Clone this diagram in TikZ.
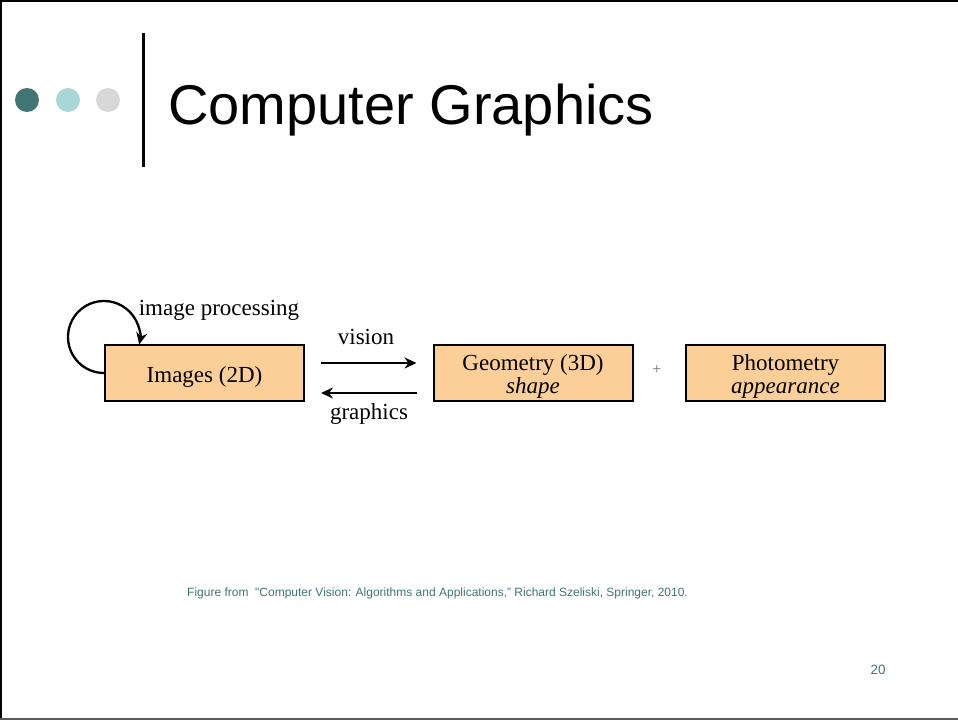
\documentclass[tikz,border=0pt]{standalone}
\usepackage{fontspec}
\setmainfont{Liberation Serif}
\newfontfamily\slidesans{Liberation Sans}
\usetikzlibrary{arrows.meta}
\definecolor{teal1}{HTML}{427676}
\definecolor{teal2}{HTML}{A9D6D8}
\definecolor{dotgray}{HTML}{D7D7D7}
\definecolor{peach}{HTML}{FCCF99}
\definecolor{captcol}{HTML}{3F7775}
\tikzset{
  stagebox/.style={draw=black, line width=2pt, fill=peach, minimum width=199pt,
    minimum height=56pt, inner sep=0pt},
  lbl/.style={inner sep=0pt, align=center, font=\fontsize{23}{23}\selectfont},
  flow/.style={line width=2.3pt, -{Stealth[length=12pt,width=11pt,inset=4pt]}},
  dot/.style={circle, inner sep=0pt, minimum size=24pt}
}
\begin{document}
\begin{tikzpicture}[x=1pt,y=-1pt]
\useasboundingbox (0,0) rectangle (958,720);
\fill[white] (0,0) rectangle (958,720);
% slide frame
\draw[line width=2pt] (0,1) -- (958,1);
\draw[line width=2pt] (1,0) -- (1,720);
\draw[line width=2pt, black!65] (0,719) -- (958,719);

% header: dots, rule, title
\node[dot, fill=teal1] (d1) at (27,100) {};
\node[dot, fill=teal2] (d2) at (68,100) {};
\node[dot, fill=dotgray] (d3) at (108,100) {};
\draw[line width=3pt] (143,33) -- (143,167);
\node[anchor=base west, inner sep=0pt, font=\slidesans\fontsize{56}{56}\selectfont]
  (title) at (168,124) {Computer Graphics};

% diagram: the three stages
\node[stagebox] (img) at (204.5,373) {};
\node[stagebox] (geo) at (533,373) {};
\node[stagebox] (pho) at (785.5,373) {};
\node[lbl] (imgtxt) at ([yshift=-4pt]img.center) {Images (2D)};
\node[lbl] (geotxt) at ([yshift=-3pt]geo.center) {Geometry (3D)\\\textit{shape}};
\node[lbl] (photxt) at ([yshift=-3pt]pho.center) {Photometry\\\textit{appearance}};
\node[inner sep=0pt, text=black!55, font=\fontsize{16}{16}\selectfont] (plus) at (657,370) {+};

% vision / graphics arrows between the stages
\draw[flow, shorten <=16pt, shorten >=16pt] ([yshift=10pt]img.east) -- ([yshift=10pt]geo.west);
\draw[flow, shorten <=16pt, shorten >=16pt] ([yshift=-20pt]geo.west) -- ([yshift=-20pt]img.east);
\node[lbl] (vis) at (366,337) {vision};
\node[lbl] (gra) at (369,414) {graphics};

% image processing loop on the image stage
\draw[flow] (img.west) arc[start angle=90, end angle=372, radius=36];
\node[lbl] (ip) at (219,310) {image processing};

% source line and page number
\node[anchor=base west, inner sep=0pt, text=captcol, font=\slidesans\fontsize{12}{13}\selectfont]
  (src) at (187,596) {Figure from\ \ "Computer Vision: Algorithms and Applications,” Richard Szeliski, Springer, 2010.};
\node[inner sep=0pt, text=captcol, font=\slidesans\fontsize{13.5}{14}\selectfont] (pg) at (878,670) {20};
\end{tikzpicture}
\end{document}
